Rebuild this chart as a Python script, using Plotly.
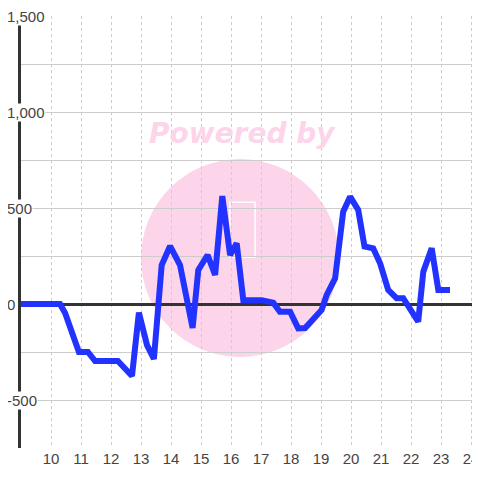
import plotly.graph_objects as go

# ---- data ----
hours = [9.0, 10.3, 10.47, 10.93, 11.23, 11.47, 12.23, 12.47, 12.7, 12.93,
         13.2, 13.43, 13.69, 13.97, 14.3, 14.72, 14.91, 15.22, 15.47, 15.71,
         15.97, 16.19, 16.41, 17.02, 17.41, 17.63, 17.97, 18.24, 18.47, 19.02,
         19.19, 19.47, 19.74, 19.97, 20.24, 20.45, 20.74, 20.97, 21.24, 21.52,
         21.74, 22.24, 22.41, 22.69, 22.91, 23.3]
values = [0, 0, -47, -250, -250, -297, -297, -333, -375, -45,
          -214, -286, 203, 302, 203, -125, 177, 255, 151, 562,
          255, 316, 20, 20, 7, -40, -40, -127, -125, -31,
          47, 134, 481, 559, 490, 300, 290, 212, 73, 30,
          30, -92, 168, 290, 73, 73]

x_tick_values = list(range(10, 25))
y_label_values = [1500, 1000, 500, 0, -500]
y_label_texts = ["1,500", "1,000", "500", "0", "-500"]
x_range = [9, 24.3]
y_range = [-750, 1500]

TEXT = "#444444"
FONT = "Liberation Sans, Arial, sans-serif"

fig = go.Figure()
fig.add_trace(go.Scatter(
    x=hours, y=values, mode="lines",
    line=dict(color="#2233ff", width=6),
    hoverinfo="skip", showlegend=False,
))

# watermark circle and logo outline (behind the grid)
fig.add_shape(type="circle", xref="paper", yref="paper",
              x0=0.2614, x1=0.6928, y0=0.2106, y1=0.669,
              fillcolor="#fcd5ea", line=dict(width=0), layer="below")
fig.add_shape(type="rect", xref="paper", yref="paper",
              x0=0.455, x1=0.510, y0=0.442, y1=0.569,
              fillcolor="rgba(0,0,0,0)", line=dict(color="white", width=1.5),
              layer="below")

annotations = [dict(
    x=0.4815, y=0.727, xref="paper", yref="paper",
    text="Powered by", showarrow=False, xanchor="center", yanchor="middle",
    font=dict(family="DejaVu Sans", size=28, color="#fcd5ea",
              weight="bold", style="italic"),
)]
for v, t in zip(y_label_values, y_label_texts):
    annotations.append(dict(
        x=-15 / 459, xref="paper", y=v, yref="y", text=t,
        showarrow=False, xanchor="left", yanchor="middle",
        bgcolor="white", borderpad=0,
        font=dict(family=FONT, size=15, color=TEXT),
    ))

# page body has an 8px default margin: size the figure to end at 480px
fig.update_layout(
    width=472, height=472,
    margin=dict(l=13, r=0, t=8, b=32, autoexpand=False),
    paper_bgcolor="white", plot_bgcolor="rgba(0,0,0,0)",
    showlegend=False,
    annotations=annotations,
    xaxis=dict(
        range=x_range, tickvals=x_tick_values,
        showgrid=True, gridcolor="#cccccc", gridwidth=1, griddash="dot",
        zeroline=False, showline=False, ticks="", automargin=False,
        ticklabeloverflow="allow",
        tickfont=dict(family=FONT, size=15, color=TEXT),
        fixedrange=True,
    ),
    yaxis=dict(
        range=y_range, tick0=0, dtick=250, showticklabels=False,
        showgrid=True, gridcolor="#cccccc", gridwidth=1,
        zeroline=True, zerolinecolor="#333333", zerolinewidth=3,
        showline=True, linecolor="#333333", linewidth=3, ticks="",
        automargin=False, fixedrange=True,
    ),
)

fig.write_html("out.html")
